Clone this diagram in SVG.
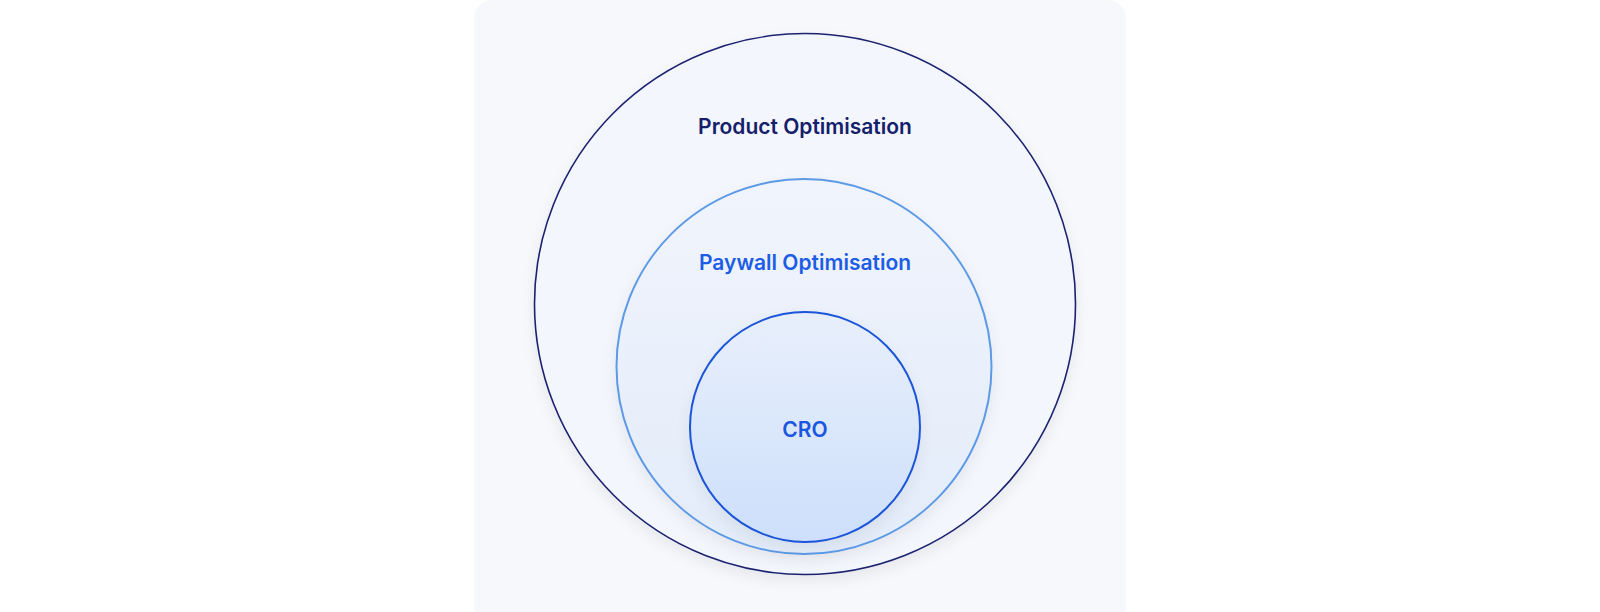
<svg xmlns="http://www.w3.org/2000/svg" width="1600" height="612" viewBox="0 0 1600 612">
<defs>
<style>
.lbl{font-family:Inter,"Noto Sans","Liberation Sans",sans-serif;font-weight:600;font-size:21px;text-anchor:middle}
</style>
<linearGradient id="croFill" x1="0" y1="0" x2="0" y2="1">
<stop offset="0" stop-color="#e8effb"/>
<stop offset="1" stop-color="#cddffb"/>
</linearGradient>
<linearGradient id="payFill" x1="0" y1="0" x2="0" y2="1">
<stop offset="0" stop-color="#f0f4fc"/>
<stop offset="1" stop-color="#e3ecfa"/>
</linearGradient>
<filter id="soft" x="-20%" y="-20%" width="140%" height="140%">
<feGaussianBlur in="SourceAlpha" stdDeviation="8"/>
<feOffset dy="6"/>
<feComponentTransfer><feFuncA type="linear" slope="0.07"/></feComponentTransfer>
<feMerge><feMergeNode/><feMergeNode in="SourceGraphic"/></feMerge>
</filter>
</defs>
<rect width="1600" height="612" fill="#ffffff"/>
<rect id="panel" x="474" y="0" width="652" height="640" rx="18" fill="#f7f8fb"/>
<g id="product">
<circle cx="805" cy="304" r="270.5" fill="#f3f6fc" stroke="#1b2270" stroke-width="1.6" filter="url(#soft)"/>
<text class="lbl" x="805" y="134" fill="#15206b">Product Optimisation</text>
</g>
<g id="paywall">
<circle cx="804" cy="366.5" r="187.5" fill="url(#payFill)" stroke="#5c9ae6" stroke-width="2" filter="url(#soft)"/>
<text class="lbl" x="805" y="270" fill="#1d5de6">Paywall Optimisation</text>
</g>
<g id="cro">
<circle cx="805" cy="427" r="115" fill="url(#croFill)" stroke="#1a55d9" stroke-width="2" filter="url(#soft)"/>
<text class="lbl" x="805" y="437" fill="#1a56df">CRO</text>
</g>
<g id="connectors"/>
</svg>
